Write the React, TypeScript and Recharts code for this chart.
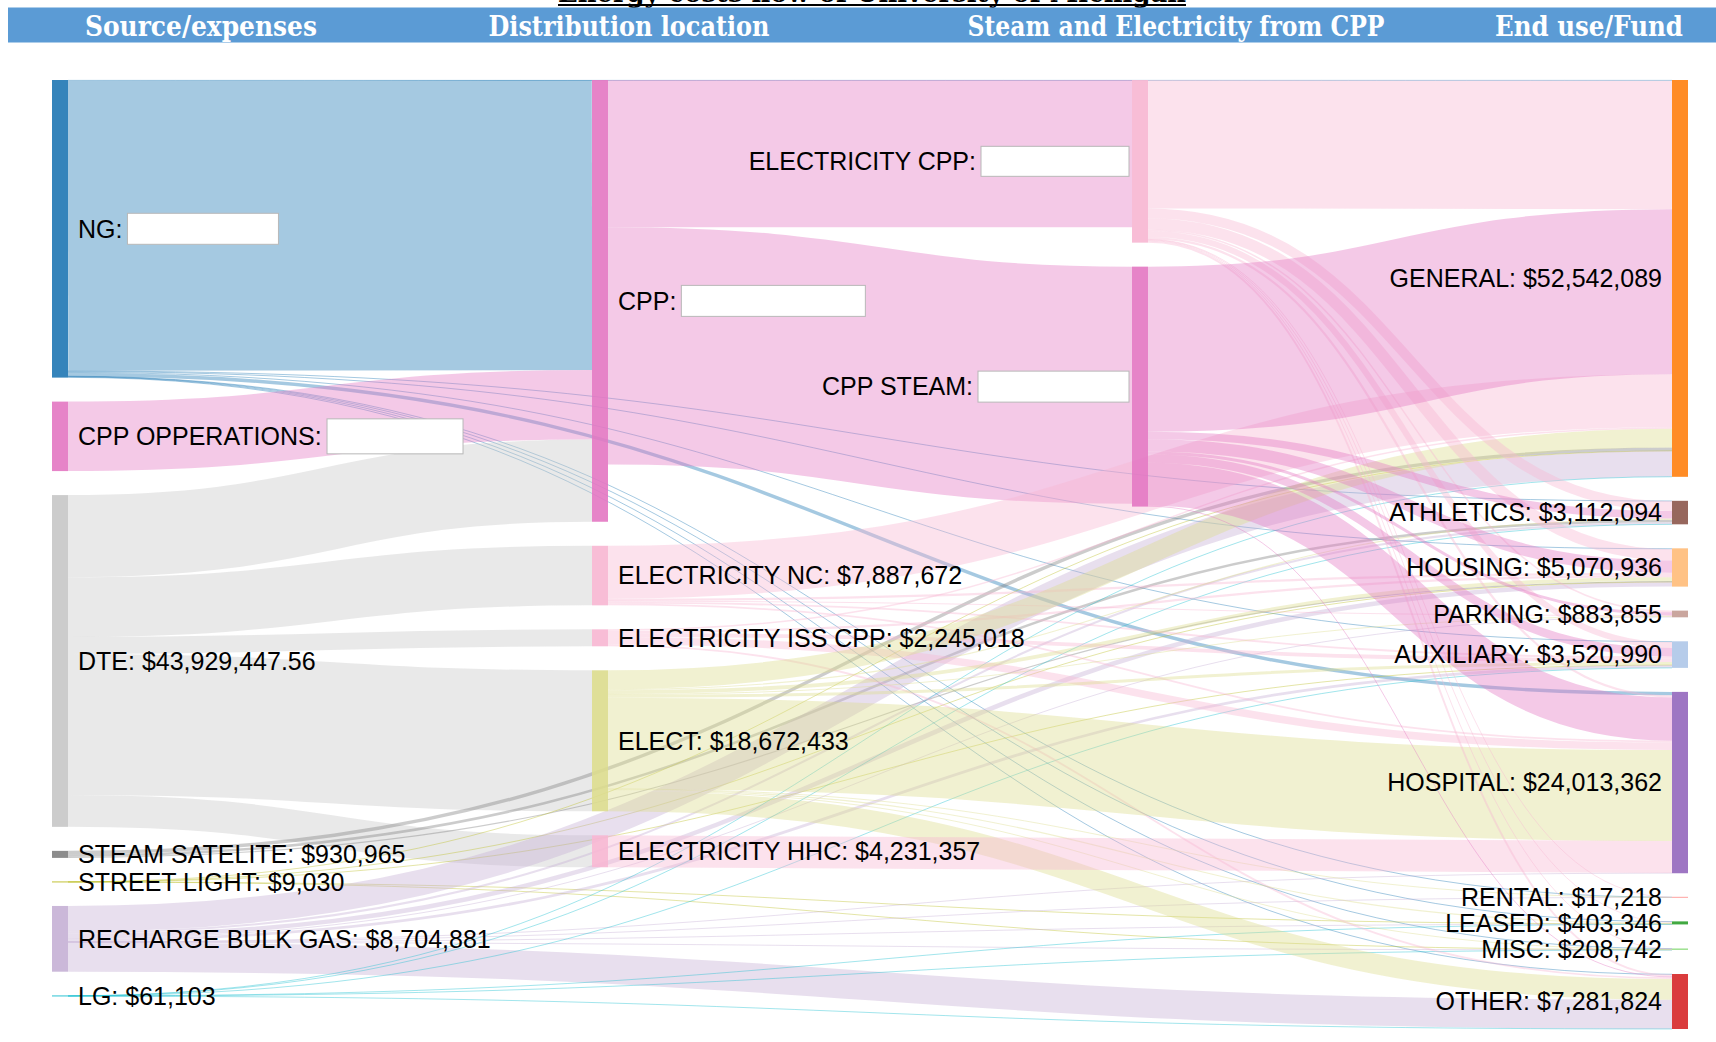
import React from 'react';
import { Sankey } from 'recharts';

// ---------- data ----------
const chartTitle = 'Energy costs flow of University of Michigan';
const columnTitles = ['Source/expenses', 'Distribution location', 'Steam and Electricity from CPP', 'End use/Fund'];

const sourceNames = ['NG', 'CPP OPPERATIONS', 'DTE', 'STEAM SATELITE', 'STREET LIGHT', 'RECHARGE BULK GAS', 'LG'];
const distributionNames = ['CPP', 'ELECTRICITY NC', 'ELECTRICITY ISS CPP', 'ELECT', 'ELECTRICITY HHC'];
const cppOutputNames = ['ELECTRICITY CPP', 'CPP STEAM'];
const fundNames = ['GENERAL', 'ATHLETICS', 'HOUSING', 'PARKING', 'AUXILIARY', 'HOSPITAL', 'RENTAL', 'LEASED', 'MISC', 'OTHER'];

// nodes whose value is covered by a blank box in the original
const hiddenValueNodes = ['NG', 'CPP OPPERATIONS', 'CPP', 'ELECTRICITY CPP', 'CPP STEAM'];

const ngFlows: [string, string, number][] = [
  ['NG', 'GENERAL', 100000],
  ['NG', 'CPP', 38400000],
  ['NG', 'ATHLETICS', 50000],
  ['NG', 'HOUSING', 120000],
  ['NG', 'AUXILIARY', 100000],
  ['NG', 'HOSPITAL', 450000],
  ['NG', 'RENTAL', 5000],
  ['NG', 'LEASED', 60000],
  ['NG', 'MISC', 40000],
  ['NG', 'OTHER', 80000],
];
const cppOpsFlows: [string, string, number][] = [['CPP OPPERATIONS', 'CPP', 9200000]];
const dteFlows: [string, string, number][] = [
  ['DTE', 'CPP', 10892967.56],
  ['DTE', 'ELECTRICITY NC', 7887672],
  ['DTE', 'ELECTRICITY ISS CPP', 2245018],
  ['DTE', 'ELECT', 18672433],
  ['DTE', 'ELECTRICITY HHC', 4231357],
];
const steamSateliteFlows: [string, string, number][] = [
  ['STEAM SATELITE', 'GENERAL', 450000],
  ['STEAM SATELITE', 'ATHLETICS', 330000],
  ['STEAM SATELITE', 'HOUSING', 150965],
];
const streetLightFlows: [string, string, number][] = [
  ['STREET LIGHT', 'GENERAL', 3000],
  ['STREET LIGHT', 'HOUSING', 2000],
  ['STREET LIGHT', 'AUXILIARY', 2000],
  ['STREET LIGHT', 'LEASED', 1030],
  ['STREET LIGHT', 'MISC', 1000],
];
const rechargeFlows: [string, string, number][] = [
  ['RECHARGE BULK GAS', 'GENERAL', 3400000],
  ['RECHARGE BULK GAS', 'ATHLETICS', 277094],
  ['RECHARGE BULK GAS', 'HOUSING', 597971],
  ['RECHARGE BULK GAS', 'PARKING', 83855],
  ['RECHARGE BULK GAS', 'AUXILIARY', 363975],
  ['RECHARGE BULK GAS', 'HOSPITAL', 30000],
  ['RECHARGE BULK GAS', 'RENTAL', 2218],
  ['RECHARGE BULK GAS', 'LEASED', 59970],
  ['RECHARGE BULK GAS', 'MISC', 29000],
  ['RECHARGE BULK GAS', 'OTHER', 3860798],
];
const lgFlows: [string, string, number][] = [
  ['LG', 'GENERAL', 20000],
  ['LG', 'ATHLETICS', 5000],
  ['LG', 'AUXILIARY', 5015],
  ['LG', 'LEASED', 12346],
  ['LG', 'MISC', 8742],
  ['LG', 'OTHER', 10000],
];
const cppFlows: [string, string, number][] = [
  ['CPP', 'ELECTRICITY CPP', 19500000],
  ['CPP', 'CPP STEAM', 31400000],
];
const electricityNcFlows: [string, string, number][] = [
  ['ELECTRICITY NC', 'GENERAL', 7000000],
  ['ELECTRICITY NC', 'HOUSING', 300000],
  ['ELECTRICITY NC', 'PARKING', 100000],
  ['ELECTRICITY NC', 'AUXILIARY', 250000],
  ['ELECTRICITY NC', 'HOSPITAL', 237672],
];
const electricityIssFlows: [string, string, number][] = [
  ['ELECTRICITY ISS CPP', 'GENERAL', 200000],
  ['ELECTRICITY ISS CPP', 'HOUSING', 300000],
  ['ELECTRICITY ISS CPP', 'AUXILIARY', 500000],
  ['ELECTRICITY ISS CPP', 'HOSPITAL', 1000000],
  ['ELECTRICITY ISS CPP', 'OTHER', 245018],
];
const electFlows: [string, string, number][] = [
  ['ELECT', 'GENERAL', 2500000],
  ['ELECT', 'ATHLETICS', 150000],
  ['ELECT', 'HOUSING', 500000],
  ['ELECT', 'PARKING', 100000],
  ['ELECT', 'AUXILIARY', 400000],
  ['ELECT', 'HOSPITAL', 12061425],
  ['ELECT', 'RENTAL', 5000],
  ['ELECT', 'LEASED', 150000],
  ['ELECT', 'MISC', 70000],
  ['ELECT', 'OTHER', 2736008],
];
const electricityHhcFlows: [string, string, number][] = [['ELECTRICITY HHC', 'HOSPITAL', 4231357]];
const electricityCppFlows: [string, string, number][] = [
  ['ELECTRICITY CPP', 'GENERAL', 17000000],
  ['ELECTRICITY CPP', 'ATHLETICS', 1300000],
  ['ELECTRICITY CPP', 'HOUSING', 1500000],
  ['ELECTRICITY CPP', 'PARKING', 200000],
  ['ELECTRICITY CPP', 'AUXILIARY', 800000],
  ['ELECTRICITY CPP', 'HOSPITAL', 300000],
  ['ELECTRICITY CPP', 'RENTAL', 5000],
  ['ELECTRICITY CPP', 'LEASED', 120000],
  ['ELECTRICITY CPP', 'MISC', 60000],
  ['ELECTRICITY CPP', 'OTHER', 250000],
];
const cppSteamFlows: [string, string, number][] = [
  ['CPP STEAM', 'GENERAL', 21869089],
  ['CPP STEAM', 'ATHLETICS', 1000000],
  ['CPP STEAM', 'HOUSING', 1600000],
  ['CPP STEAM', 'PARKING', 400000],
  ['CPP STEAM', 'AUXILIARY', 1100000],
  ['CPP STEAM', 'HOSPITAL', 5702908],
  ['CPP STEAM', 'OTHER', 100000],
];

// ---------- styles ----------
const groupColors: Record<string, string> = {
  NG: '#1f77b4', AUXILIARY: '#aec7e8', GENERAL: '#ff7f0e', HOUSING: '#ffbb78',
  LEASED: '#2ca02c', MISC: '#98df8a', OTHER: '#d62728', RENTAL: '#ff9896',
  HOSPITAL: '#9467bd', RECHARGE: '#c5b0d5', ATHLETICS: '#8c564b', PARKING: '#c49c94',
  CPP: '#e377c2', ELECTRICITY: '#f7b6d2', STEAM: '#7f7f7f', DTE: '#c7c7c7',
  STREET: '#bcbd22', ELECT: '#dbdb8d', LG: '#17becf',
};
const colorOf = (name: string) => groupColors[name.split(' ')[0]] || '#999';

const boxSizes: Record<string, [number, number]> = {
  'NG': [151, 31],
  'CPP OPPERATIONS': [136, 35],
  'CPP': [184, 31],
  'ELECTRICITY CPP': [148, 30],
  'CPP STEAM': [151, 31],
};
const headerCenters = [201, 629, 1176, 1589];
const headerWidths = [232, 281, 417, 188];

const LABEL_FONT = '"Liberation Sans", Arial, Helvetica, sans-serif';
const LABEL_SIZE = 25;

// ---------- build sankey data ----------
const nodeNames = [...sourceNames, ...distributionNames, ...cppOutputNames, ...fundNames];
const allFlows = [
  ...ngFlows, ...cppOpsFlows, ...dteFlows, ...steamSateliteFlows, ...streetLightFlows,
  ...rechargeFlows, ...lgFlows, ...cppFlows, ...electricityNcFlows, ...electricityIssFlows,
  ...electFlows, ...electricityHhcFlows, ...electricityCppFlows, ...cppSteamFlows,
];
const sankeyData = {
  nodes: nodeNames.map((name) => ({ name })),
  links: allFlows.map(([s, t, v]) => ({ source: nodeNames.indexOf(s), target: nodeNames.indexOf(t), value: v })),
};

let measureCtx: CanvasRenderingContext2D | null = null;
function textWidth(s: string): number {
  if (!measureCtx && typeof document !== 'undefined') {
    measureCtx = document.createElement('canvas').getContext('2d');
  }
  if (!measureCtx) return s.length * LABEL_SIZE * 0.6;
  measureCtx.font = `${LABEL_SIZE}px ${LABEL_FONT}`;
  return measureCtx.measureText(s).width;
}

const WIDTH = 1716;
const HEIGHT = 1042;

function SankeyNode(props: any) {
  const { x, y, width, height, payload } = props;
  const name: string = payload.name;
  const color = colorOf(name);
  const h = Math.max(height, 1);
  const cy = y + height / 2;
  const rectY = height < 1 ? cy - 0.5 : y;
  const labelRight = x < WIDTH / 2;
  const hidden = hiddenValueNodes.includes(name);
  const valueText = '$' + Number(payload.value).toLocaleString('en-US', { maximumFractionDigits: 2 });
  const textProps = {
    fontFamily: LABEL_FONT,
    fontSize: LABEL_SIZE,
    fill: '#000',
    dy: '0.35em',
  } as any;

  let label: React.ReactNode;
  if (hidden) {
    const [bw, bh] = boxSizes[name];
    const prefix = `${name}:`;
    if (labelRight) {
      const tx = x + width + 10;
      const bx = tx + textWidth(prefix) + 5;
      label = (
        <g>
          <text x={tx} y={cy} textAnchor="start" {...textProps}>{prefix}</text>
          <rect x={bx} y={cy - bh / 2} width={bw} height={bh} fill="#fff" stroke="#b8b8b8" strokeWidth={1} />
        </g>
      );
    } else {
      const bRight = x - 3;
      const bx = bRight - bw;
      label = (
        <g>
          <text x={bx - 5} y={cy} textAnchor="end" {...textProps}>{prefix}</text>
          <rect x={bx} y={cy - bh / 2} width={bw} height={bh} fill="#fff" stroke="#b8b8b8" strokeWidth={1} />
        </g>
      );
    }
  } else {
    const txt = `${name}: ${valueText}`;
    label = labelRight ? (
      <text x={x + width + 10} y={cy} textAnchor="start" {...textProps}>{txt}</text>
    ) : (
      <text x={x - 10} y={cy} textAnchor="end" {...textProps}>{txt}</text>
    );
  }

  return (
    <g>
      <rect x={x} y={rectY} width={width} height={h} fill={color} fillOpacity={0.9} />
      {label}
    </g>
  );
}

function SankeyLink(props: any) {
  const { sourceX, sourceY, targetX, targetY, sourceControlX, targetControlX, linkWidth, payload } = props;
  const src = payload && typeof payload.source === 'object' ? payload.source : sankeyData.nodes[payload?.source ?? 0];
  const color = colorOf(src?.name ?? '');
  return (
    <path
      d={`M${sourceX},${sourceY}C${sourceControlX},${sourceY} ${targetControlX},${targetY} ${targetX},${targetY}`}
      fill="none"
      stroke={color}
      strokeOpacity={0.4}
      strokeWidth={Math.max(1, linkWidth)}
    />
  );
}

function Header() {
  return (
    <svg width={WIDTH} height={62} style={{ position: 'absolute', left: 0, top: 0, pointerEvents: 'none' }}>
      <text
        x={558}
        y={2}
        fontFamily='"DejaVu Serif", "Liberation Serif", serif'
        fontWeight="bold"
        fontSize={27}
        fill="#000"
        textLength={628}
        lengthAdjust="spacingAndGlyphs"
      >
        {chartTitle}
      </text>
      <rect x={558} y={4} width={628} height={2} fill="#000" />
      <rect x={8} y={7.5} width={WIDTH - 8} height={35} fill="#5b9bd5" />
      {columnTitles.map((t, i) => (
        <text
          key={t}
          x={headerCenters[i] - headerWidths[i] / 2}
          y={36}
          fontFamily='"DejaVu Serif", "Liberation Serif", serif'
          fontWeight="bold"
          fontSize={27}
          fill="#fff"
          textLength={headerWidths[i]}
          lengthAdjust="spacingAndGlyphs"
        >
          {t}
        </text>
      ))}
    </svg>
  );
}

export default function App() {
  return (
    <div style={{ position: 'absolute', left: 0, top: 0, width: WIDTH, height: HEIGHT, background: '#fff' }}>
      <div style={{ position: 'absolute', left: 0, top: 0 }}>
        <Sankey
          width={WIDTH}
          height={HEIGHT}
          data={sankeyData}
          nodeWidth={16}
          nodePadding={24}
          linkCurvature={0.5}
          iterations={0}
          sort={false}
          margin={{ top: 80, right: 28, bottom: 13, left: 52 }}
          node={(p: any) => <SankeyNode {...p} />}
          link={(p: any) => <SankeyLink {...p} />}
        />
      </div>
      <Header />
    </div>
  );
}
